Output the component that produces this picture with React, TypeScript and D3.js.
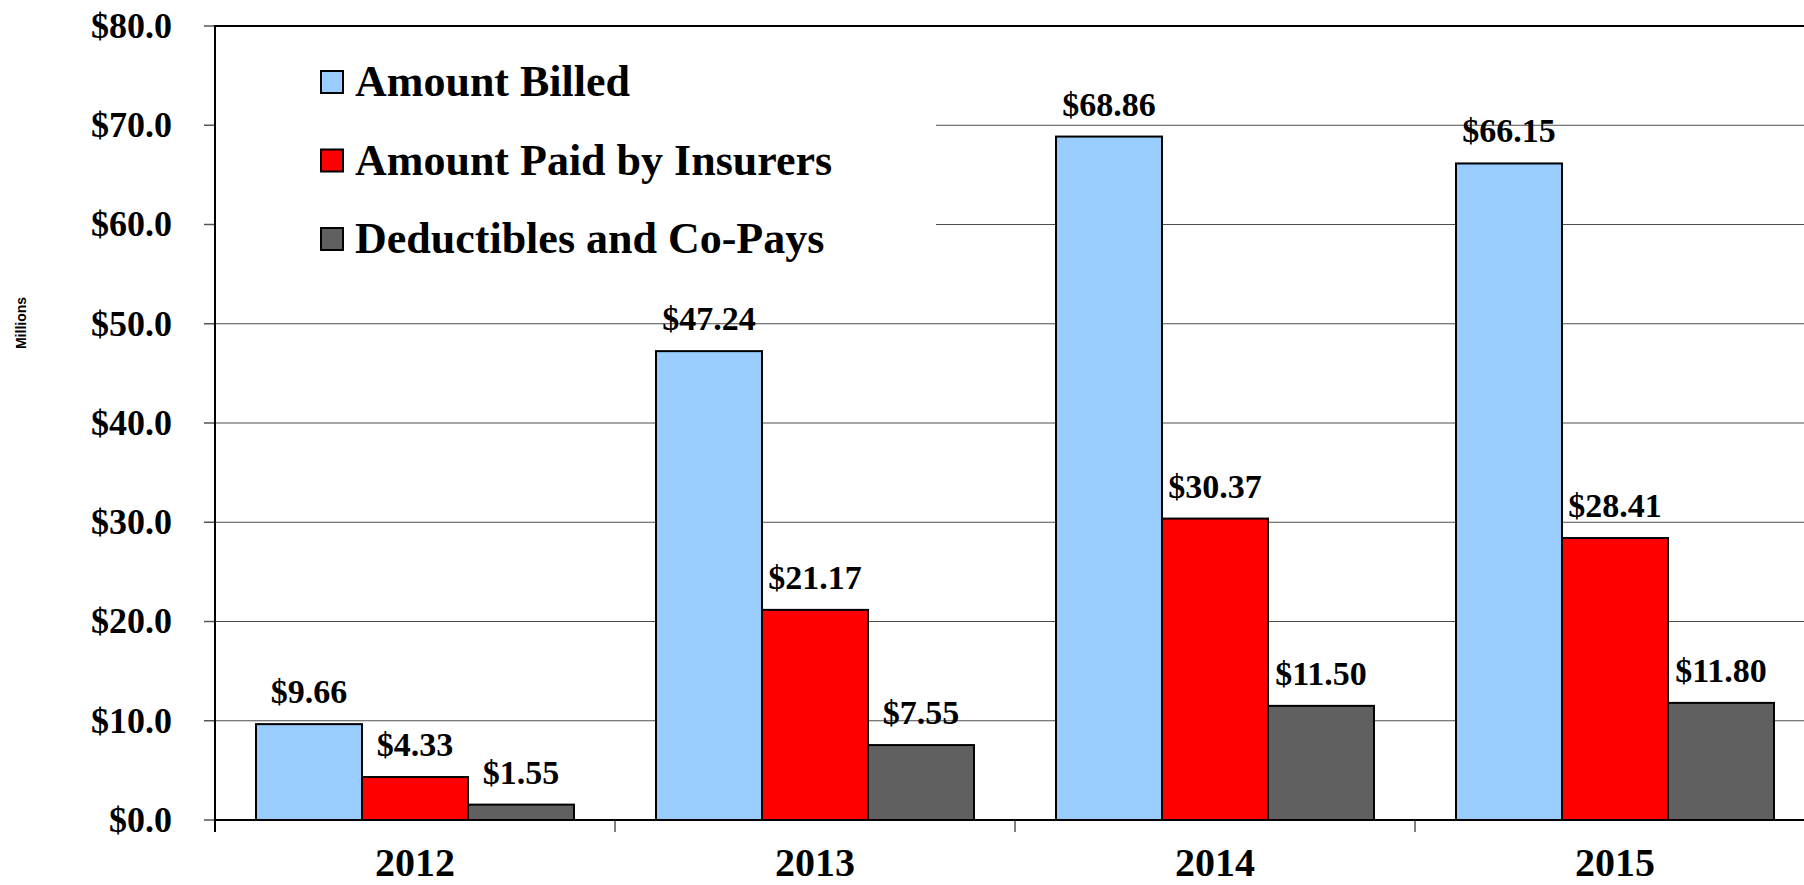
import React, { useRef, useEffect } from 'react';
import * as d3 from 'd3';

const years = ['2012', '2013', '2014', '2015'];
const seriesNames = ['Amount Billed', 'Amount Paid by Insurers', 'Deductibles and Co-Pays'];
const amountBilled = [9.66, 47.24, 68.86, 66.15];
const amountPaid = [4.33, 21.17, 30.37, 28.41];
const deductibles = [1.55, 7.55, 11.5, 11.8];
const seriesColors = ['#99CCFF', '#FF0000', '#606060'];
const yTicks = [0, 10, 20, 30, 40, 50, 60, 70, 80];

const Chart = () => {
  const ref = useRef<SVGSVGElement>(null);

  useEffect(() => {
    if (!ref.current) return;
    const svg = d3.select(ref.current);
    svg.selectAll('*').remove();

    const width = 1804;
    const height = 885;
    const left = 215;
    const top = 26;
    const bottom = 820;
    const serif = '"Liberation Serif", "Times New Roman", serif';

    svg.attr('width', width).attr('height', height);

    const series = [amountBilled, amountPaid, deductibles];

    // 카테고리 스케일 (오른쪽은 화면 밖으로 잘림)
    const x = d3.scaleBand().domain(years).range([left, left + 1600]).padding(0);
    const x1 = d3
      .scaleBand()
      .domain(seriesNames)
      .range([0, x.bandwidth()])
      .paddingInner(0)
      .paddingOuter(0.387);
    const y = d3.scaleLinear().domain([0, 80]).range([bottom, top]);

    // 그리드 라인
    svg
      .append('g')
      .selectAll('line')
      .data(yTicks.filter((t) => t > 0 && t < 80))
      .enter()
      .append('line')
      .attr('x1', left)
      .attr('x2', width)
      .attr('y1', (d) => y(d))
      .attr('y2', (d) => y(d))
      .attr('stroke', '#4d4d4d')
      .attr('stroke-width', 1);

    // 범례 배경
    svg
      .append('rect')
      .attr('x', left + 1)
      .attr('y', top + 1)
      .attr('width', 936 - left - 1)
      .attr('height', 264)
      .attr('fill', 'white');

    // 막대
    const groups = svg
      .append('g')
      .selectAll('g')
      .data(years)
      .enter()
      .append('g')
      .attr('transform', (d) => `translate(${x(d)},0)`);

    groups
      .selectAll('rect')
      .data((_, i) => series.map((s, k) => ({ name: seriesNames[k], value: s[i], color: seriesColors[k] })))
      .enter()
      .append('rect')
      .attr('x', (d) => x1(d.name) as number)
      .attr('y', (d) => y(d.value))
      .attr('width', x1.bandwidth())
      .attr('height', (d) => bottom - y(d.value))
      .attr('fill', (d) => d.color)
      .attr('stroke', 'black')
      .attr('stroke-width', 2);

    // 값 레이블
    groups
      .selectAll('text')
      .data((_, i) => series.map((s, k) => ({ name: seriesNames[k], value: s[i] })))
      .enter()
      .append('text')
      .text((d) => '$' + d.value.toFixed(2))
      .attr('x', (d) => (x1(d.name) as number) + x1.bandwidth() / 2)
      .attr('y', (d) => y(d.value) - 21)
      .attr('text-anchor', 'middle')
      .attr('font-size', '34px')
      .attr('font-weight', 'bold')
      .attr('fill', 'black')
      .style('font-family', serif);

    // Y축
    const yAxis = svg.append('g');
    yAxis
      .selectAll('line')
      .data(yTicks)
      .enter()
      .append('line')
      .attr('x1', left - 11)
      .attr('x2', left)
      .attr('y1', (d) => y(d))
      .attr('y2', (d) => y(d))
      .attr('stroke', '#555')
      .attr('stroke-width', 1.5);
    yAxis
      .selectAll('text')
      .data(yTicks)
      .enter()
      .append('text')
      .text((d) => '$' + d.toFixed(1))
      .attr('x', 172)
      .attr('y', (d) => y(d))
      .attr('dy', '0.33em')
      .attr('text-anchor', 'end')
      .attr('font-size', '36px')
      .attr('font-weight', 'bold')
      .style('font-family', serif);

    // X축 틱
    svg
      .append('g')
      .selectAll('line')
      .data(years)
      .enter()
      .append('line')
      .attr('x1', (d) => x(d) as number)
      .attr('x2', (d) => x(d) as number)
      .attr('y1', bottom)
      .attr('y2', bottom + 12)
      .attr('stroke', '#555')
      .attr('stroke-width', 1.5);

    svg
      .append('g')
      .selectAll('text')
      .data(years)
      .enter()
      .append('text')
      .text((d) => d)
      .attr('x', (d) => (x(d) as number) + x.bandwidth() / 2)
      .attr('y', 876)
      .attr('text-anchor', 'middle')
      .attr('font-size', '40px')
      .attr('font-weight', 'bold')
      .style('font-family', serif);

    // 축 테두리
    svg
      .append('line')
      .attr('x1', left)
      .attr('x2', width)
      .attr('y1', top)
      .attr('y2', top)
      .attr('stroke', 'black')
      .attr('stroke-width', 2);
    svg
      .append('line')
      .attr('x1', left)
      .attr('x2', width)
      .attr('y1', bottom)
      .attr('y2', bottom)
      .attr('stroke', 'black')
      .attr('stroke-width', 2);
    svg
      .append('line')
      .attr('x1', left)
      .attr('x2', left)
      .attr('y1', top - 1)
      .attr('y2', bottom + 12)
      .attr('stroke', 'black')
      .attr('stroke-width', 2);

    // 범례
    const legend = svg
      .append('g')
      .selectAll('g')
      .data(seriesNames)
      .enter()
      .append('g')
      .attr('transform', (_, i) => `translate(321,${82 + i * 78.5})`);
    legend
      .append('rect')
      .attr('x', 0)
      .attr('y', -11)
      .attr('width', 22)
      .attr('height', 22)
      .attr('fill', (_, i) => seriesColors[i])
      .attr('stroke', 'black')
      .attr('stroke-width', 2);
    legend
      .append('text')
      .text((d) => d)
      .attr('x', 34)
      .attr('y', 14)
      .attr('font-size', '44px')
      .attr('font-weight', 'bold')
      .style('font-family', serif);

    // Y축 제목
    svg
      .append('text')
      .text('Millions')
      .attr('transform', 'translate(26,323) rotate(-90)')
      .attr('text-anchor', 'middle')
      .attr('font-size', '14px')
      .attr('font-weight', 'bold')
      .style('font-family', '"Liberation Sans", Arial, sans-serif');
  }, []);

  return <svg ref={ref} style={{ position: 'absolute', left: 0, top: 0, display: 'block' }} />;
};

export default function App() {
  return <Chart />;
}
